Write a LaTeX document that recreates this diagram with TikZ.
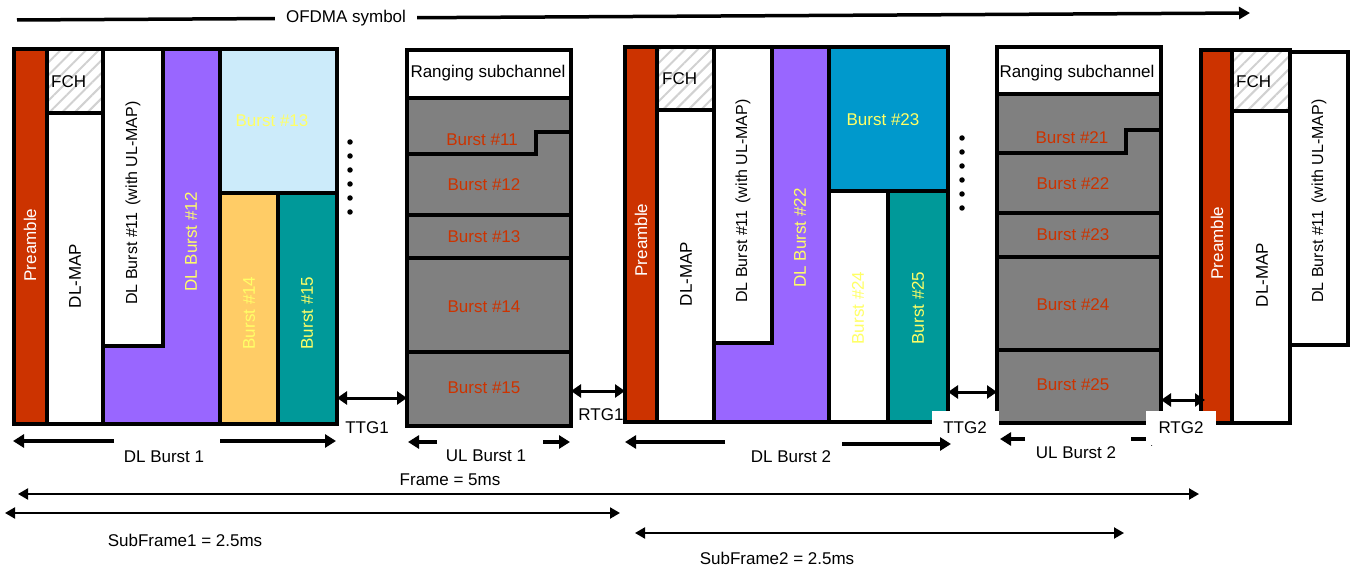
\documentclass[tikz,border=0pt]{standalone}
\usepackage{fontspec}
\setmainfont{Liberation Sans}
\usetikzlibrary{arrows.meta,patterns.meta}
\definecolor{pre}{HTML}{CC3300}
\definecolor{purp}{HTML}{9966FF}
\definecolor{lblue}{HTML}{CCEBFA}
\definecolor{orng}{HTML}{FFCC66}
\definecolor{teal}{HTML}{009999}
\definecolor{dblue}{HTML}{0099CC}
\definecolor{ulgray}{HTML}{808080}
\definecolor{ytext}{HTML}{FFFF66}
\definecolor{rtext}{HTML}{CC3300}
\begin{document}
\begin{tikzpicture}[x=1pt,y=-1pt,
  every node/.style={inner sep=0pt,font=\fontsize{17}{20}\selectfont},
  cell/.style={draw=black,line width=3.5pt,line join=miter},
  fchcell/.style={cell,preaction={fill=white},pattern={Lines[angle=45,distance=9pt,line width=2pt]},pattern color=black!18},
  vtext/.style={rotate=90},
  longtext/.style={rotate=90,font=\fontsize{16}{19}\selectfont},
  ultext/.style={text=rtext},
  ytx/.style={text=ytext},
  fatarrow/.style={line width=4pt,-{Triangle[length=11pt,width=13pt]}},
  gaparrow/.style={line width=3pt,{Triangle[length=10pt,width=13pt]}-{Triangle[length=10pt,width=13pt]}},
  thinarrow/.style={line width=2pt,{Triangle[length=10pt,width=11pt]}-{Triangle[length=10pt,width=11pt]}},
  gaplabel/.style={fill=white,minimum height=34pt},
  dot/.style={circle,fill=black,minimum size=5.5pt}]
\useasboundingbox (0,0) rectangle (1351,569);

% ---------------- OFDMA symbol arrow ----------------
\coordinate (ofa) at (17,20);
\coordinate (ofb) at (1250,13);
\draw[line width=3.5pt,-{Triangle[length=11pt,width=12pt]}] (ofa) -- (ofb);
\node[fill=white,inner xsep=11pt,inner ysep=3pt] (ofdma) at (346,18) {OFDMA symbol};

% ---------------- Frame 1 (DL) ----------------
\draw[cell,fill=white] (14,49) rectangle (337,424);
\draw[cell,fill=pre] (14,49) rectangle (47,424);
\draw[fchcell] (47,49) rectangle (103,113);
\draw[cell,fill=white] (47,113) rectangle (103,424);
\draw[cell,fill=purp] (163,49) -- (220,49) -- (220,424) -- (103,424) -- (103,346) -- (163,346) -- cycle;
\draw[cell,fill=white] (103,49) rectangle (163,346);
\draw[cell,fill=lblue] (220,49) rectangle (337,193);
\draw[cell,fill=orng] (220,193) rectangle (278,424);
\draw[cell,fill=teal] (278,193) rectangle (337,424);
\draw[cell] (14,49) rectangle (337,424);

\node[vtext,text=white] (pre1) at (30,245) {Preamble};
\node[anchor=west] (fch1) at (51,82) {FCH};
\node[vtext] (map1) at (75,276) {DL-MAP};
\node[longtext] (b111) at (133,203) {DL Burst \#11\ \,(with UL-MAP)};
\node[vtext,ytx] (b112) at (191,242) {DL Burst \#12};
\node[ytx] (b113) at (272,121) {Burst \#13};
\node[vtext,ytx] (b114) at (249,313) {Burst \#14};
\node[vtext,ytx] (b115) at (307,313) {Burst \#15};

\foreach \i in {0,...,5} \node[dot] (d1\i) at (350,142+14*\i) {};

% ---------------- UL 1 ----------------
\draw[cell,fill=ulgray] (407,50) rectangle (571,426);
\draw[cell,fill=white] (407,50) rectangle (571,98);
\draw[cell] (407,154) -- (536,154) -- (536,132) -- (571,132);
\draw[cell] (407,215) -- (571,215);
\draw[cell] (407,258) -- (571,258);
\draw[cell] (407,352) -- (571,352);
\draw[cell] (407,50) rectangle (571,426);
\node (rng1) at (488,73) {Ranging subchannel};
\node[ultext] (u11) at (482,140) {Burst \#11};
\node[ultext] (u12) at (484,185) {Burst \#12};
\node[ultext] (u13) at (484,237) {Burst \#13};
\node[ultext] (u14) at (484,307) {Burst \#14};
\node[ultext] (u15) at (484,388) {Burst \#15};

% ---------------- Frame 2 (DL) ----------------
\draw[cell,fill=white] (625,47) rectangle (948,422);
\draw[cell,fill=pre] (625,47) rectangle (657,422);
\draw[fchcell] (657,47) rectangle (714,110);
\draw[cell,fill=white] (657,110) rectangle (714,422);
\draw[cell,fill=purp] (772,47) -- (829,47) -- (829,422) -- (714,422) -- (714,343) -- (772,343) -- cycle;
\draw[cell,fill=white] (714,47) rectangle (772,343);
\draw[cell,fill=dblue] (829,47) rectangle (948,191);
\draw[cell,fill=white] (829,191) rectangle (888,422);
\draw[cell,fill=teal] (888,191) rectangle (948,422);
\draw[cell] (625,47) rectangle (948,422);

\node[vtext,text=white] (pre2) at (641,240) {Preamble};
\node[anchor=west] (fch2) at (662,79) {FCH};
\node[vtext] (map2) at (686,274) {DL-MAP};
\node[longtext] (b211) at (743,201) {DL Burst \#11\ \,(with UL-MAP)};
\node[vtext,ytx] (b222) at (800,238) {DL Burst \#22};
\node[ytx] (b223) at (883,120) {Burst \#23};
\node[vtext,ytx] (b224) at (858,308) {Burst \#24};
\node[vtext,ytx] (b225) at (918,308) {Burst \#25};

\foreach \i in {0,...,5} \node[dot] (d2\i) at (962,138+14*\i) {};

% ---------------- UL 2 ----------------
\draw[cell,fill=ulgray] (997,47) rectangle (1161,423);
\draw[cell,fill=white] (997,47) rectangle (1161,94);
\draw[cell] (997,153) -- (1126,153) -- (1126,130) -- (1161,130);
\draw[cell] (997,213) -- (1161,213);
\draw[cell] (997,257) -- (1161,257);
\draw[cell] (997,350) -- (1161,350);
\draw[cell] (997,47) rectangle (1161,423);
\node (rng2) at (1077,73) {Ranging subchannel};
\node[ultext] (u21) at (1072,138) {Burst \#21};
\node[ultext] (u22) at (1073,184) {Burst \#22};
\node[ultext] (u23) at (1073,235) {Burst \#23};
\node[ultext] (u24) at (1073,305) {Burst \#24};
\node[ultext] (u25) at (1073,385) {Burst \#25};

% ---------------- Frame 3 (partial) ----------------
\draw[cell,fill=white] (1201,50) rectangle (1290,423);
\draw[cell,fill=pre] (1201,50) rectangle (1232,423);
\draw[fchcell] (1232,50) rectangle (1290,111);
\draw[cell,fill=white] (1232,111) rectangle (1290,423);
\draw[cell,fill=white] (1290,52) rectangle (1348,345);
\draw[cell] (1201,50) rectangle (1290,423);
\node[vtext,text=white] (pre3) at (1217,243) {Preamble};
\node[anchor=west] (fch3) at (1236,82) {FCH};
\node[vtext] (map3) at (1262,275) {DL-MAP};
\node[longtext] (b311) at (1319,201) {DL Burst \#11\ \,(with UL-MAP)};

% ---------------- Gap arrows ----------------
\coordinate (ttg1a) at (337,398); \coordinate (ttg1b) at (407,398);
\coordinate (rtg1a) at (571,391); \coordinate (rtg1b) at (625,391);
\coordinate (ttg2a) at (948,392); \coordinate (ttg2b) at (997,392);
\coordinate (rtg2a) at (1161,400); \coordinate (rtg2b) at (1205,400);
\draw[gaparrow] (ttg1a) -- (ttg1b);
\draw[gaparrow] (rtg1a) -- (rtg1b);
\draw[gaparrow] (ttg2a) -- (ttg2b);
\draw[gaparrow] (rtg2a) -- (rtg2b);

% ---------------- Burst span arrows ----------------
\coordinate (dl1l0) at (114,441); \coordinate (dl1l1) at (13,441);
\coordinate (dl1r0) at (220,441); \coordinate (dl1r1) at (336,441);
\coordinate (ul1l0) at (437,442); \coordinate (ul1l1) at (408,442);
\coordinate (ul1r0) at (543,442); \coordinate (ul1r1) at (570,442);
\coordinate (dl2l0) at (725,442); \coordinate (dl2l1) at (625,442);
\coordinate (dl2r0) at (842,444); \coordinate (dl2r1) at (951,444);
\coordinate (ul2l0) at (1025,439); \coordinate (ul2l1) at (1000,439);
\coordinate (ul2r0) at (1131,439); \coordinate (ul2r1) at (1162,439);

% the UL Burst 2 right arrow is partly hidden under the RTG2 label
\draw[fatarrow] (ul2r0) -- (ul2r1);

% gap labels
\node (ttg1) at (367,428) {TTG1};
\node (rtg1) at (601,415) {RTG1};
\node[gaplabel,minimum width=67pt] (ttg2) at (965,428) {TTG2};
\node[gaplabel,minimum width=70pt] (rtg2) at (1181,428) {RTG2};

\foreach \a in {dl1l,dl1r,ul1l,ul1r,dl2l,dl2r,ul2l}
  \draw[fatarrow] (\a0) -- (\a1);

\node (dlb1) at (164,457) {DL Burst 1};
\node (ulb1) at (486,456) {UL Burst 1};
\node (dlb2) at (791,457) {DL Burst 2};
\node (ulb2) at (1076,453) {UL Burst 2};

% ---------------- Frame / subframe arrows ----------------
\coordinate (fra) at (18,494); \coordinate (frb) at (1199,494);
\coordinate (sf1a) at (5,513); \coordinate (sf1b) at (620,513);
\coordinate (sf2a) at (635,533); \coordinate (sf2b) at (1124,533);
\draw[thinarrow] (fra) -- (frb);
\draw[thinarrow] (sf1a) -- (sf1b);
\draw[thinarrow] (sf2a) -- (sf2b);
\node (frame) at (450,480) {Frame = 5ms};
\node (sf1) at (185,540) {SubFrame1 = 2.5ms};
\node (sf2) at (777,558) {SubFrame2 = 2.5ms};
\end{tikzpicture}
\end{document}
